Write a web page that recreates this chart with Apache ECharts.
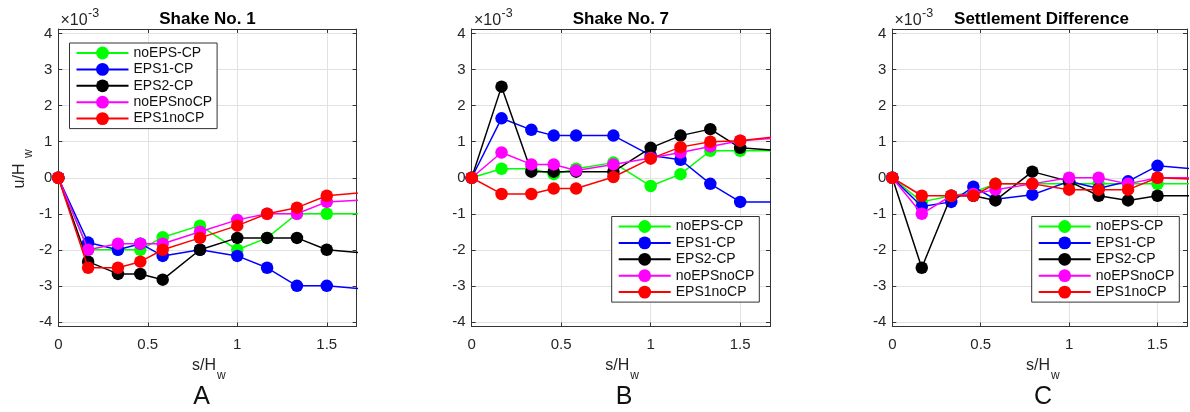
<!DOCTYPE html>
<html>
<head>
<meta charset="utf-8">
<title>Normalized displacement along s/Hw</title>
<script src="https://cdn.jsdelivr.net/npm/echarts@6.0.0/dist/echarts.min.js"></script>
<style>
  html, body { margin: 0; padding: 0; background: #fff; }
  #chart { width: 1190px; height: 412px; }
</style>
</head>
<body>
<div id="chart"></div>
<script>
// Sensor positions s/Hw (last one lies just past the plotted range)
const sPositions = [0, 0.1667, 0.3333, 0.4583, 0.5833, 0.7917, 1.0, 1.1667, 1.3333, 1.5, 1.8333];

const seriesNames = ['noEPS-CP', 'EPS1-CP', 'EPS2-CP', 'noEPSnoCP', 'EPS1noCP'];
const seriesColors = ['#00ff00', '#0000ff', '#000000', '#ff00ff', '#ff0000'];

// u/Hw values, in units of 1e-3
// Shake No. 1
const shake1NoEpsCp   = [0, -2.0, -2.0, -2.0, -1.65, -1.33, -2.0, -1.67, -1.0, -1.0, -1.0];
const shake1Eps1Cp    = [0, -1.8, -2.0, -1.83, -2.17, -2.0, -2.17, -2.5, -3.0, -3.0, -3.14];
const shake1Eps2Cp    = [0, -2.33, -2.67, -2.67, -2.83, -2.0, -1.67, -1.67, -1.67, -2.0, -2.14];
const shake1NoEpsNoCp = [0, -2.0, -1.83, -1.83, -1.83, -1.5, -1.17, -1.0, -1.0, -0.67, -0.59];
const shake1Eps1NoCp  = [0, -2.5, -2.5, -2.33, -2.0, -1.67, -1.33, -1.0, -0.83, -0.5, -0.36];

// Shake No. 7
const shake7NoEpsCp   = [0, 0.25, 0.25, 0.1, 0.25, 0.42, -0.23, 0.1, 0.75, 0.75, 0.75];
const shake7Eps1Cp    = [0, 1.65, 1.33, 1.17, 1.17, 1.17, 0.62, 0.5, -0.17, -0.67, -0.67];
const shake7Eps2Cp    = [0, 2.53, 0.17, 0.17, 0.17, 0.17, 0.83, 1.17, 1.35, 0.83, 0.71];
const shake7NoEpsNoCp = [0, 0.7, 0.37, 0.37, 0.2, 0.37, 0.55, 0.7, 0.87, 1.03, 1.15];
const shake7Eps1NoCp  = [0, -0.45, -0.45, -0.3, -0.3, 0.02, 0.53, 0.85, 1.0, 1.03, 1.21];

// Settlement difference
const diffNoEpsCp   = [0, -0.67, -0.5, -0.4, -0.17, -0.17, -0.17, -0.17, -0.17, -0.17, -0.17];
const diffEps1Cp    = [0, -0.8, -0.67, -0.25, -0.6, -0.47, -0.1, -0.3, -0.1, 0.33, 0.19];
const diffEps2Cp    = [0, -2.5, -0.5, -0.5, -0.63, 0.17, -0.1, -0.5, -0.63, -0.5, -0.5];
const diffNoEpsNoCp = [0, -1.0, -0.5, -0.45, -0.33, -0.17, 0.0, 0.0, -0.17, 0.0, 0.0];
const diffEps1NoCp  = [0, -0.5, -0.5, -0.5, -0.17, -0.17, -0.33, -0.33, -0.33, 0.0, -0.06];

const panelTitles = ['Shake No. 1', 'Shake No. 7', 'Settlement Difference'];
const panelLetters = ['A', 'B', 'C'];
const panelData = [
  [shake1NoEpsCp, shake1Eps1Cp, shake1Eps2Cp, shake1NoEpsNoCp, shake1Eps1NoCp],
  [shake7NoEpsCp, shake7Eps1Cp, shake7Eps2Cp, shake7NoEpsNoCp, shake7Eps1NoCp],
  [diffNoEpsCp, diffEps1Cp, diffEps2Cp, diffNoEpsNoCp, diffEps1NoCp]
];

// Axis limits
const xMin = 0, xMax = 5 / 3, xStep = 0.5;
const yLim = 4.13;

// Layout
const FONT = '"Liberation Sans", Arial, Helvetica, sans-serif';
const AXIS_COLOR = '#333333';
const GRID_COLOR = '#e2e2e2';
const TEXT_COLOR = '#262626';
const plotLefts = [58.3, 471.7, 892.3];
const plotTop = 29;
const plotW = 298.3;
const plotH = 297.5;
const legendPos = [[69.5, 43], [611.7, 216.5], [1031.7, 216.5]];
const letterX = [201.5, 624, 1043];

const grids = [], xAxes = [], yAxes = [], series = [], legends = [], graphics = [];

const xLabelFmt = v => Math.abs(v / xStep - Math.round(v / xStep)) < 1e-6 ? String(+v.toFixed(2)) : '';
const yLabelFmt = v => Math.abs(v - Math.round(v)) < 1e-6 ? String(Math.round(v)) : '';

plotLefts.forEach((left, p) => {
  grids.push({ left: left, top: plotTop, width: plotW, height: plotH, containLabel: false });

  const baseX = {
    type: 'value', gridIndex: p, min: xMin, max: xMax, interval: xStep,
    axisLine: { show: true, onZero: false, lineStyle: { color: AXIS_COLOR, width: 1 } },
    axisTick: { show: true, inside: true, length: 4, lineStyle: { color: AXIS_COLOR } }
  };
  xAxes.push(Object.assign({}, baseX, {
    position: 'bottom',
    axisLabel: { show: true, formatter: xLabelFmt, color: TEXT_COLOR, fontSize: 15, fontFamily: FONT, margin: 10.5 },
    splitLine: { show: true, lineStyle: { color: GRID_COLOR, width: 1 } }
  }));
  xAxes.push(Object.assign({}, baseX, {
    position: 'top',
    axisLabel: { show: false },
    splitLine: { show: false }
  }));

  const baseY = {
    type: 'value', gridIndex: p, min: -yLim, max: yLim, splitNumber: 8,
    axisLine: { show: true, onZero: false, lineStyle: { color: AXIS_COLOR, width: 1 } },
    axisTick: { show: true, inside: true, length: 4, lineStyle: { color: AXIS_COLOR } }
  };
  yAxes.push(Object.assign({}, baseY, {
    position: 'left',
    axisLabel: { show: true, formatter: yLabelFmt, color: TEXT_COLOR, fontSize: 15, fontFamily: FONT, margin: 6 },
    splitLine: { show: true, lineStyle: { color: GRID_COLOR, width: 1 } }
  }));
  yAxes.push(Object.assign({}, baseY, {
    position: 'right',
    axisLabel: { show: false },
    splitLine: { show: false }
  }));

  seriesNames.forEach((name, k) => {
    series.push({
      type: 'line',
      name: name,
      xAxisIndex: 2 * p,
      yAxisIndex: 2 * p,
      data: sPositions.map((s, i) => [s, panelData[p][k][i]]),
      symbol: 'circle',
      symbolSize: 12.5,
      showSymbol: true,
      clip: true,
      color: seriesColors[k],
      itemStyle: { color: seriesColors[k], borderColor: seriesColors[k], borderWidth: 0 },
      lineStyle: { color: seriesColors[k], width: 1.5 },
      emphasis: { disabled: true },
      z: 2 + k * 0.01
    });
  });

  legends.push({
    data: seriesNames,
    orient: 'vertical',
    left: legendPos[p][0],
    top: legendPos[p][1],
    itemWidth: 52,
    itemHeight: 16,
    itemGap: 2.4,
    padding: [3, 5, 3, 6],
    borderColor: AXIS_COLOR,
    borderWidth: 1,
    backgroundColor: '#ffffff',
    selectedMode: false,
    textStyle: { fontSize: 14, color: '#111111', fontFamily: FONT },
    z: 10
  });

  const cx = left + plotW / 2;

  // panel title
  graphics.push({
    type: 'text', x: cx, y: 19.5, z: 20,
    style: { text: panelTitles[p], font: 'bold 17px ' + FONT, fill: '#000',
             align: 'center', verticalAlign: 'middle', textAlign: 'center', textVerticalAlign: 'middle' }
  });
  // exponent marker above the y axis
  graphics.push({
    type: 'text', x: left + 2.2, y: 21, z: 20,
    style: { text: '×10', font: '16px ' + FONT, fill: TEXT_COLOR,
             align: 'left', verticalAlign: 'middle', textAlign: 'left', textVerticalAlign: 'middle' }
  });
  graphics.push({
    type: 'text', x: left + 29.8, y: 13.5, z: 20,
    style: { text: '-3', font: '12.5px ' + FONT, fill: TEXT_COLOR,
             align: 'left', verticalAlign: 'middle', textAlign: 'left', textVerticalAlign: 'middle' }
  });
  // x axis name s/Hw
  graphics.push({
    type: 'text', x: cx + 8.5, y: 366, z: 20,
    style: { text: 's/H', font: '16px ' + FONT, fill: TEXT_COLOR,
             align: 'right', verticalAlign: 'middle', textAlign: 'right', textVerticalAlign: 'middle' }
  });
  graphics.push({
    type: 'text', x: cx + 9.5, y: 376, z: 20,
    style: { text: 'w', font: '12px ' + FONT, fill: TEXT_COLOR,
             align: 'left', verticalAlign: 'middle', textAlign: 'left', textVerticalAlign: 'middle' }
  });
  // panel letter
  graphics.push({
    type: 'text', x: letterX[p], y: 397.5, z: 20,
    style: { text: panelLetters[p], font: '25px ' + FONT, fill: '#111',
             align: 'center', verticalAlign: 'middle', textAlign: 'center', textVerticalAlign: 'middle' }
  });
});

// y axis name u/Hw (first panel only), rotated to read upward
graphics.push({
  type: 'text', x: 19.5, y: 176, rotation: Math.PI / 2, z: 20,
  style: { text: 'u/H', font: '16px ' + FONT, fill: TEXT_COLOR,
           align: 'center', verticalAlign: 'middle', textAlign: 'center', textVerticalAlign: 'middle' }
});
graphics.push({
  type: 'text', x: 29, y: 158, rotation: Math.PI / 2, z: 20,
  style: { text: 'w', font: '12px ' + FONT, fill: TEXT_COLOR,
           align: 'left', verticalAlign: 'middle', textAlign: 'left', textVerticalAlign: 'middle' }
});

const chart = echarts.init(document.getElementById('chart'), null, { renderer: 'canvas' });
chart.setOption({
  animation: false,
  backgroundColor: '#ffffff',
  textStyle: { fontFamily: FONT },
  grid: grids,
  xAxis: xAxes,
  yAxis: yAxes,
  legend: legends,
  series: series,
  graphic: { elements: graphics }
});
</script>
</body>
</html>
